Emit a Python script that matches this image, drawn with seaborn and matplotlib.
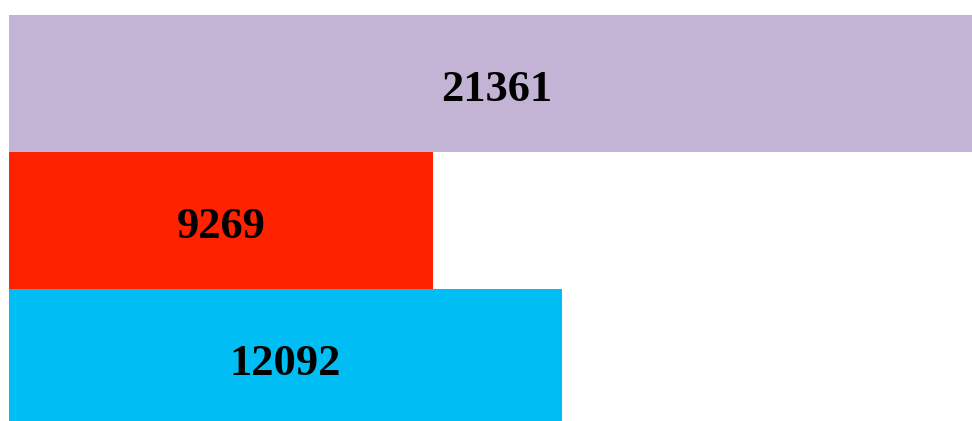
import seaborn as sns
import matplotlib.pyplot as plt
import pandas as pd

# Data
categories = ["A", "B", "C"]
values = [21361, 9269, 12092]
colors = ["#C3B4D6", "#FF2200", "#00BEF3"]

df = pd.DataFrame({"Category": categories, "Value": values})

sns.set_style("white")

fig = plt.figure(figsize=(9.72, 4.21), dpi=100)
ax = fig.add_axes([9 / 972, 0, 1 - 9 / 972, 1])

sns.barplot(data=df, x="Value", y="Category", hue="Category", palette=colors,
            width=1.0, saturation=1, legend=False, ax=ax, linewidth=0)

# bars are clipped at the right and bottom in the reference
ax.set_xlim(0, 21073)
ax.set_ylim(2.4635, -0.6095)

for i, v in enumerate(values):
    ax.annotate(str(v), xy=(v / 2, i), xytext=(0, -4.5), textcoords="offset points",
                ha="center", va="center", fontsize=32, fontweight="bold",
                family=["Liberation Serif", "DejaVu Serif"], color="black")

ax.set_axis_off()

plt.savefig("out.png", dpi=100)
plt.close()
